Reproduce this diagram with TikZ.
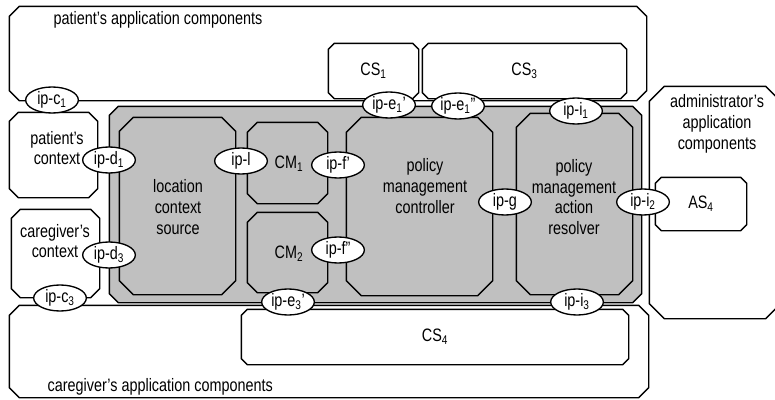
\documentclass[tikz,border=0pt]{standalone}
\usepackage{fontspec}
\setmainfont{Liberation Sans}[FakeStretch=0.8]
\usetikzlibrary{shapes.geometric,fit,calc}

\definecolor{sysgrey}{RGB}{192,192,192}

% octagonal box: [fill] name, corner, corner, chamfer
\newcommand{\chbox}[5][white]{%
  \node[inner sep=0pt, fit={#3 #4}] (#2) {};
  \draw[fill=#1] ($(#2.north west)+(#5,0)$) -- ($(#2.north east)+(-#5,0)$) -- ($(#2.north east)+(0,#5)$) -- ($(#2.south east)+(0,-#5)$) -- ($(#2.south east)+(-#5,0)$) -- ($(#2.south west)+(#5,0)$) -- ($(#2.south west)+(0,-#5)$) -- ($(#2.north west)+(0,#5)$) -- cycle ;
}

\tikzset{every picture/.style={line width=1pt}}
\tikzset{
  ip/.style={draw, ellipse, fill=white, inner sep=0pt, minimum width=39.5pt, minimum height=19.5pt},
  lbl/.style={inner sep=0pt, align=center}
}

\begin{document}
\begin{tikzpicture}[x=0.75pt,y=0.75pt,yscale=-1,xscale=1,font=\fontsize{13.5}{15.5}\selectfont]
\useasboundingbox (0,0) rectangle (775,400);

%Shape: Octagon - application components
\chbox{patapp}{(10,7)}{(646,100)}{10}
\chbox{careapp}{(10,306)}{(648,397)}{10}
\chbox{adminapp}{(650,87)}{(780,318)}{15}
%Shape: Octagon - context boxes
\chbox{patctx}{(10,113)}{(97,197)}{9}
\chbox{carectx}{(12,210)}{(99,297)}{9}
%Shape: Octagon - services
\chbox{cs1}{(329,44)}{(418,98)}{6}
\chbox{cs3}{(423,44)}{(626,98)}{6}
\chbox{cs4}{(242,310)}{(628,364)}{6}
\chbox{as4}{(656,178)}{(746,230)}{6}

%Shape: Octagon - system and its components
\chbox[sysgrey]{sys}{(110,107)}{(641,302)}{9}
\chbox[sysgrey]{lcs}{(120,118)}{(235,294)}{14}
\chbox[sysgrey]{cm1}{(248,123)}{(327,203)}{10}
\chbox[sysgrey]{cm2}{(248,213)}{(327,292)}{10}
\chbox[sysgrey]{pmc}{(347,118)}{(492,295)}{15}
\chbox[sysgrey]{pmar}{(517,114)}{(632,294)}{14}

% Text Node
\node[lbl, anchor=base west] (patapptxt) at (53,24) {patient's application components};
% Text Node
\node[lbl, anchor=base west] (careapptxt) at (47,391) {caregiver's application components};
% Text Node
\node[lbl] (admintxt) at (717,124) {administrator's\\application\\components};
% Text Node
\node[lbl] (patctxtxt) at (57,148) {patient's\\context};
% Text Node
\node[lbl] (carectxtxt) at (55,241) {caregiver's\\context};
% Text Node
\node[lbl] (lcstxt) at (178,207) {location\\context\\source};
% Text Node
\node[lbl] (pmctxt) at (425,186) {policy\\management\\controller};
% Text Node
\node[lbl] (pmartxt) at (574,197) {policy\\management\\action\\resolver};
% Text Node
\node[lbl] (cs1txt) at (cs1) {CS\textsubscript{1}};
\node[lbl] (cs3txt) at (cs3) {CS\textsubscript{3}};
\node[lbl] (cs4txt) at (cs4) {CS\textsubscript{4}};
\node[lbl] (as4txt) at (as4) {AS\textsubscript{4}};
\node[lbl] (cm1txt) at (289,164) {CM\textsubscript{1}};
\node[lbl] (cm2txt) at (289,254) {CM\textsubscript{2}};

%Shape: Ellipse - interaction points
\node[ip] (ipc1) at (52,100) {ip-c\textsubscript{1}};
\node[ip] (ipc3) at (60,298) {ip-c\textsubscript{3}};
\node[ip] (ipd1) at (109,160) {ip-d\textsubscript{1}};
\node[ip] (ipd3) at (109,255) {ip-d\textsubscript{3}};
\node[ip] (ipl) at (241,161) {ip-l};
\node[ip] (ipf1) at (338,165) {ip-f'};
\node[ip] (ipf2) at (338,250) {ip-f''};
\node[ip] (ipe3) at (288,302) {ip-e\textsubscript{3}'};
\node[ip] (ipe1a) at (389,105) {ip-e\textsubscript{1}'};
\node[ip] (ipe1b) at (458,106) {ip-e\textsubscript{1}''};
\node[ip] (ipg) at (505,202) {ip-g};
\node[ip] (ipi1) at (576,111) {ip-i\textsubscript{1}};
\node[ip] (ipi2) at (643,202) {ip-i\textsubscript{2}};
\node[ip] (ipi3) at (577,302) {ip-i\textsubscript{3}};

\end{tikzpicture}
\end{document}
